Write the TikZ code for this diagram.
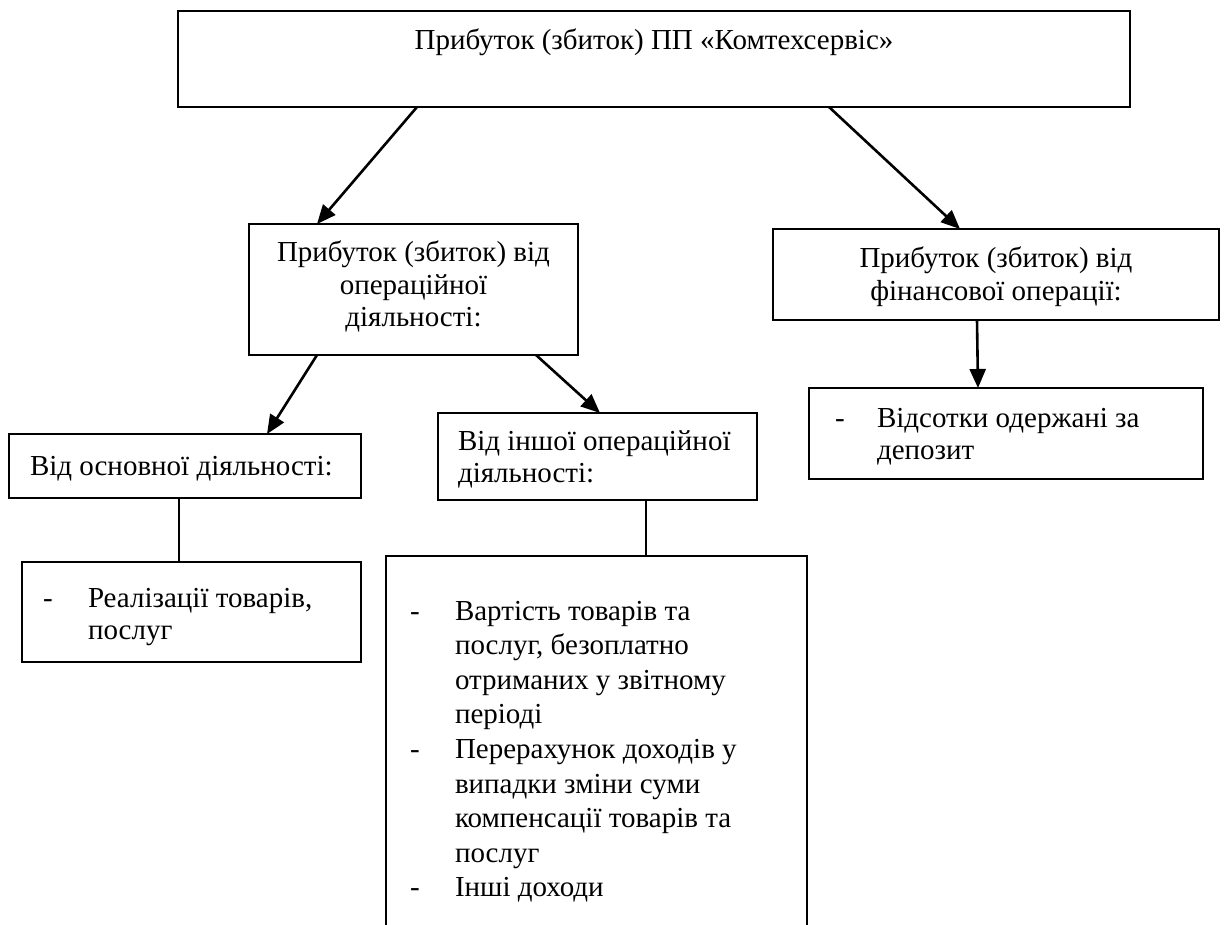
\documentclass[tikz,border=0pt]{standalone}
\usepackage{fontspec}
\setmainfont{Liberation Serif}
\usetikzlibrary{arrows.meta}
\tikzset{
  box/.style={draw, line width=1.3pt, inner sep=0pt, outer sep=0pt, anchor=north west},
  txt/.style={inner sep=0pt, outer sep=0pt, font=\fontsize{29}{32.5}\selectfont},
  bigtxt/.style={inner sep=0pt, outer sep=0pt, font=\fontsize{29}{34.6}\selectfont},
  arr/.style={line width=2.6pt, -{Triangle[length=19pt,width=16pt]}},
  thinline/.style={line width=1.2pt}
}
\begin{document}
\begin{tikzpicture}[x=1pt,y=-1pt]
\useasboundingbox (0,0) rectangle (1224,925);
% boxes
\node[box, line width=1.8pt, minimum width=952pt, minimum height=96pt] (top) at (178,11) {};
\node[box, minimum width=329pt, minimum height=131pt] (op) at (249,224) {};
\node[box, minimum width=446pt, minimum height=91pt] (fin) at (773,229) {};
\node[box, minimum width=394pt, minimum height=91pt] (dep) at (809,388) {};
\node[box, minimum width=352pt, minimum height=64pt] (osn) at (9,434) {};
\node[box, minimum width=319pt, minimum height=87pt] (insh) at (438,413) {};
\node[box, minimum width=339pt, minimum height=100pt] (real) at (22,562) {};
\node[box, minimum width=421pt, minimum height=400pt] (big) at (386,556) {};
% texts
\node[txt, anchor=base] (ttop) at (654,50) {Прибуток (збиток) ПП «Комтехсервіс»};
\node[txt, anchor=base] (top_t) at (413.5,262) {\parbox[t]{320pt}{\centering Прибуток (збиток) від\\ операційної\\ діяльності:}};
\node[txt, anchor=base] (tfin) at (996,268) {\parbox[t]{430pt}{\centering Прибуток (збиток) від\\ фінансової операції:}};
\node[txt, anchor=base west] (ddep) at (835,427) {-};
\node[txt, anchor=base west] (tdep) at (877,427) {\parbox[t]{320pt}{\raggedright Відсотки одержані за\\ депозит}};
\node[txt, anchor=base west] (tosn) at (30,475) {Від основної діяльності:};
\node[txt, anchor=base west] (tinsh) at (458,450) {\parbox[t]{300pt}{\raggedright Від іншої операційної\\ діяльності:}};
\node[txt, anchor=base west] (dreal) at (43,607) {-};
\node[txt, anchor=base west] (treal) at (88,607) {\parbox[t]{270pt}{\raggedright Реалізації товарів,\\ послуг}};
\node[bigtxt, anchor=base west] (dbig1) at (410,620) {-};
\node[bigtxt, anchor=base west] (dbig2) at (410,758.4) {-};
\node[bigtxt, anchor=base west] (dbig3) at (410,896.8) {-};
\node[bigtxt, anchor=base west] (tbig) at (455,620) {\parbox[t]{345pt}{\raggedright Вартість товарів та\\ послуг, безоплатно\\ отриманих у звітному\\ періоді\\ Перерахунок доходів у\\ випадки зміни суми\\ компенсації товарів та\\ послуг\\ Інші доходи}};
% connectors
\draw[arr] ([xshift=239pt]top.south west) -- ([xshift=68pt]op.north west);
\draw[arr] ([xshift=651pt]top.south west) -- ([xshift=187pt]fin.north west);
\draw[arr] ([xshift=68pt]op.south west) -- ([xshift=258pt]osn.north west);
\draw[arr] ([xshift=287pt]op.south west) -- ([xshift=162pt]insh.north west);
\draw[arr] ([xshift=204pt]fin.south west) -- ([xshift=169pt]dep.north west);
\draw[thinline] ([xshift=170pt]osn.south west) -- ([xshift=157pt]real.north west);
\draw[thinline] ([xshift=208pt]insh.south west) -- ([xshift=260pt]big.north west);
\end{tikzpicture}
\end{document}
